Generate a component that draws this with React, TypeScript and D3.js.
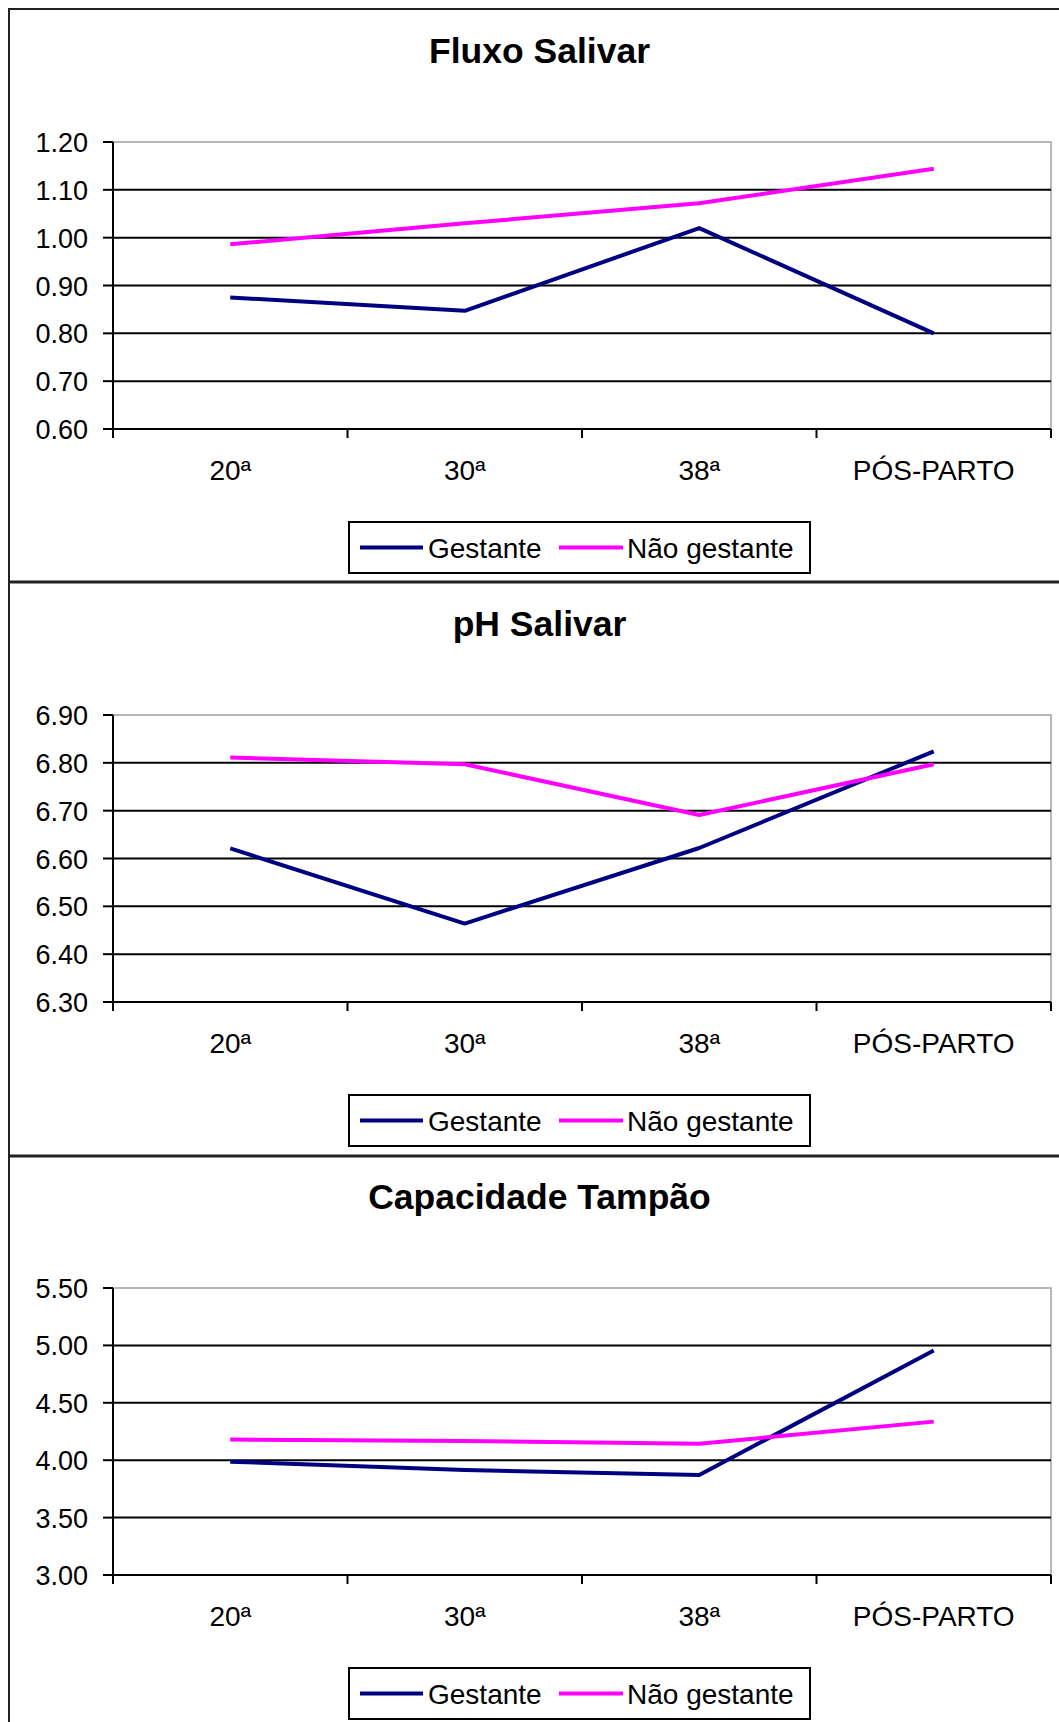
import React from "react";
import * as d3 from "d3";

const categories = ["20ª", "30ª", "38ª", "PÓS-PARTO"];
const seriesNames = ["Gestante", "Não gestante"];
const seriesColors = ["#000080", "#FF00FF"];

const fluxoTitle = "Fluxo Salivar";
const fluxoGestante = [0.875, 0.847, 1.02, 0.8];
const fluxoNaoGestante = [0.986, 1.03, 1.072, 1.144];
const fluxoTicks = [0.6, 0.7, 0.8, 0.9, 1.0, 1.1, 1.2];

const phTitle = "pH Salivar";
const phGestante = [6.621, 6.464, 6.622, 6.824];
const phNaoGestante = [6.811, 6.797, 6.691, 6.797];
const phTicks = [6.3, 6.4, 6.5, 6.6, 6.7, 6.8, 6.9];

const tampaoTitle = "Capacidade Tampão";
const tampaoGestante = [3.987, 3.914, 3.872, 4.955];
const tampaoNaoGestante = [4.18, 4.168, 4.143, 4.336];
const tampaoTicks = [3.0, 3.5, 4.0, 4.5, 5.0, 5.5];

const FONT = "'Liberation Sans', Arial, sans-serif";
const W = 1059;
const H = 1722;
const SECTION_H = 573;
const PLOT_LEFT = 113;
const PLOT_RIGHT = 1051;
const PLOT_TOP_OFF = 133;
const PLOT_H = 287;

type ChartProps = {
  top: number;
  title: string;
  ticks: number[];
  a: number[];
  b: number[];
};

function Chart({ top, title, ticks, a, b }: ChartProps) {
  const plotTop = top + PLOT_TOP_OFF;
  const plotBottom = plotTop + PLOT_H;
  const x = d3.scaleBand<string>().domain(categories).range([PLOT_LEFT, PLOT_RIGHT]);
  const y = d3
    .scaleLinear()
    .domain([d3.min(ticks) as number, d3.max(ticks) as number])
    .range([plotBottom, plotTop]);
  const line = d3
    .line<number>()
    .x((_, i) => (x(categories[i]) as number) + x.bandwidth() / 2)
    .y((d) => y(d));
  const boundaries = [...categories.map((c) => x(c) as number), PLOT_RIGHT];
  const legendTop = top + 513;
  const legendMid = legendTop + 25.5;
  return (
    <g>
      <text
        x={539.5}
        y={top + 54}
        textAnchor="middle"
        fontFamily={FONT}
        fontWeight="bold"
        fontSize={35.5}
        fill="#000"
      >
        {title}
      </text>
      <rect
        x={PLOT_LEFT}
        y={plotTop}
        width={PLOT_RIGHT - PLOT_LEFT}
        height={PLOT_H}
        fill="#fff"
        stroke="#a0a0a0"
        strokeWidth={1.5}
      />
      {ticks.slice(1, -1).map((t) => (
        <line
          key={"g" + t}
          x1={PLOT_LEFT}
          x2={PLOT_RIGHT}
          y1={y(t)}
          y2={y(t)}
          stroke="#000"
          strokeWidth={2}
        />
      ))}
      {ticks.map((t) => (
        <g key={"t" + t}>
          <line x1={PLOT_LEFT - 10} x2={PLOT_LEFT} y1={y(t)} y2={y(t)} stroke="#000" strokeWidth={2} />
          <text
            x={88}
            y={y(t) + 10}
            textAnchor="end"
            fontFamily={FONT}
            fontSize={27}
            fill="#000"
          >
            {t.toFixed(2)}
          </text>
        </g>
      ))}
      <line x1={PLOT_LEFT} x2={PLOT_LEFT} y1={plotTop} y2={plotBottom + 9} stroke="#000" strokeWidth={2} />
      <line x1={PLOT_LEFT} x2={PLOT_RIGHT} y1={plotBottom} y2={plotBottom} stroke="#000" strokeWidth={2} />
      {boundaries.map((bx, i) => (
        <line key={"xt" + i} x1={bx} x2={bx} y1={plotBottom} y2={plotBottom + 9} stroke="#000" strokeWidth={2} />
      ))}
      {categories.map((c) => (
        <text
          key={c}
          x={(x(c) as number) + x.bandwidth() / 2}
          y={plotBottom + 51}
          textAnchor="middle"
          fontFamily={FONT}
          fontSize={28}
          fill="#000"
        >
          {c}
        </text>
      ))}
      <path d={line(a) || ""} fill="none" stroke={seriesColors[0]} strokeWidth={4} strokeLinejoin="round" />
      <path d={line(b) || ""} fill="none" stroke={seriesColors[1]} strokeWidth={4} strokeLinejoin="round" />
      <rect x={349} y={legendTop} width={461} height={51} fill="#fff" stroke="#000" strokeWidth={2} />
      <line x1={360} x2={423} y1={legendMid} y2={legendMid} stroke={seriesColors[0]} strokeWidth={4} />
      <text x={428} y={legendMid + 10} fontFamily={FONT} fontSize={28} fill="#000">
        {seriesNames[0]}
      </text>
      <line x1={559} x2={623} y1={legendMid} y2={legendMid} stroke={seriesColors[1]} strokeWidth={4} />
      <text x={627} y={legendMid + 10} fontFamily={FONT} fontSize={28} fill="#000">
        {seriesNames[1]}
      </text>
    </g>
  );
}

export default function App() {
  const tops = [9, 9 + SECTION_H, 9 + 2 * SECTION_H];
  return (
    <div style={{ position: "absolute", left: 0, top: 0 }}>
      <svg width={W} height={H} style={{ display: "block", background: "#fff" }}>
        <rect x={0} y={0} width={W} height={H} fill="#fff" />
        <line x1={9} x2={9} y1={8} y2={H} stroke="#222" strokeWidth={2} />
        <line x1={8} x2={W} y1={9} y2={9} stroke="#222" strokeWidth={2} />
        <line x1={8} x2={W} y1={tops[1]} y2={tops[1]} stroke="#222" strokeWidth={3} />
        <line x1={8} x2={W} y1={tops[2] + 1} y2={tops[2] + 1} stroke="#222" strokeWidth={3} />
        <Chart top={tops[0]} title={fluxoTitle} ticks={fluxoTicks} a={fluxoGestante} b={fluxoNaoGestante} />
        <Chart top={tops[1]} title={phTitle} ticks={phTicks} a={phGestante} b={phNaoGestante} />
        <Chart top={tops[2]} title={tampaoTitle} ticks={tampaoTicks} a={tampaoGestante} b={tampaoNaoGestante} />
      </svg>
    </div>
  );
}
